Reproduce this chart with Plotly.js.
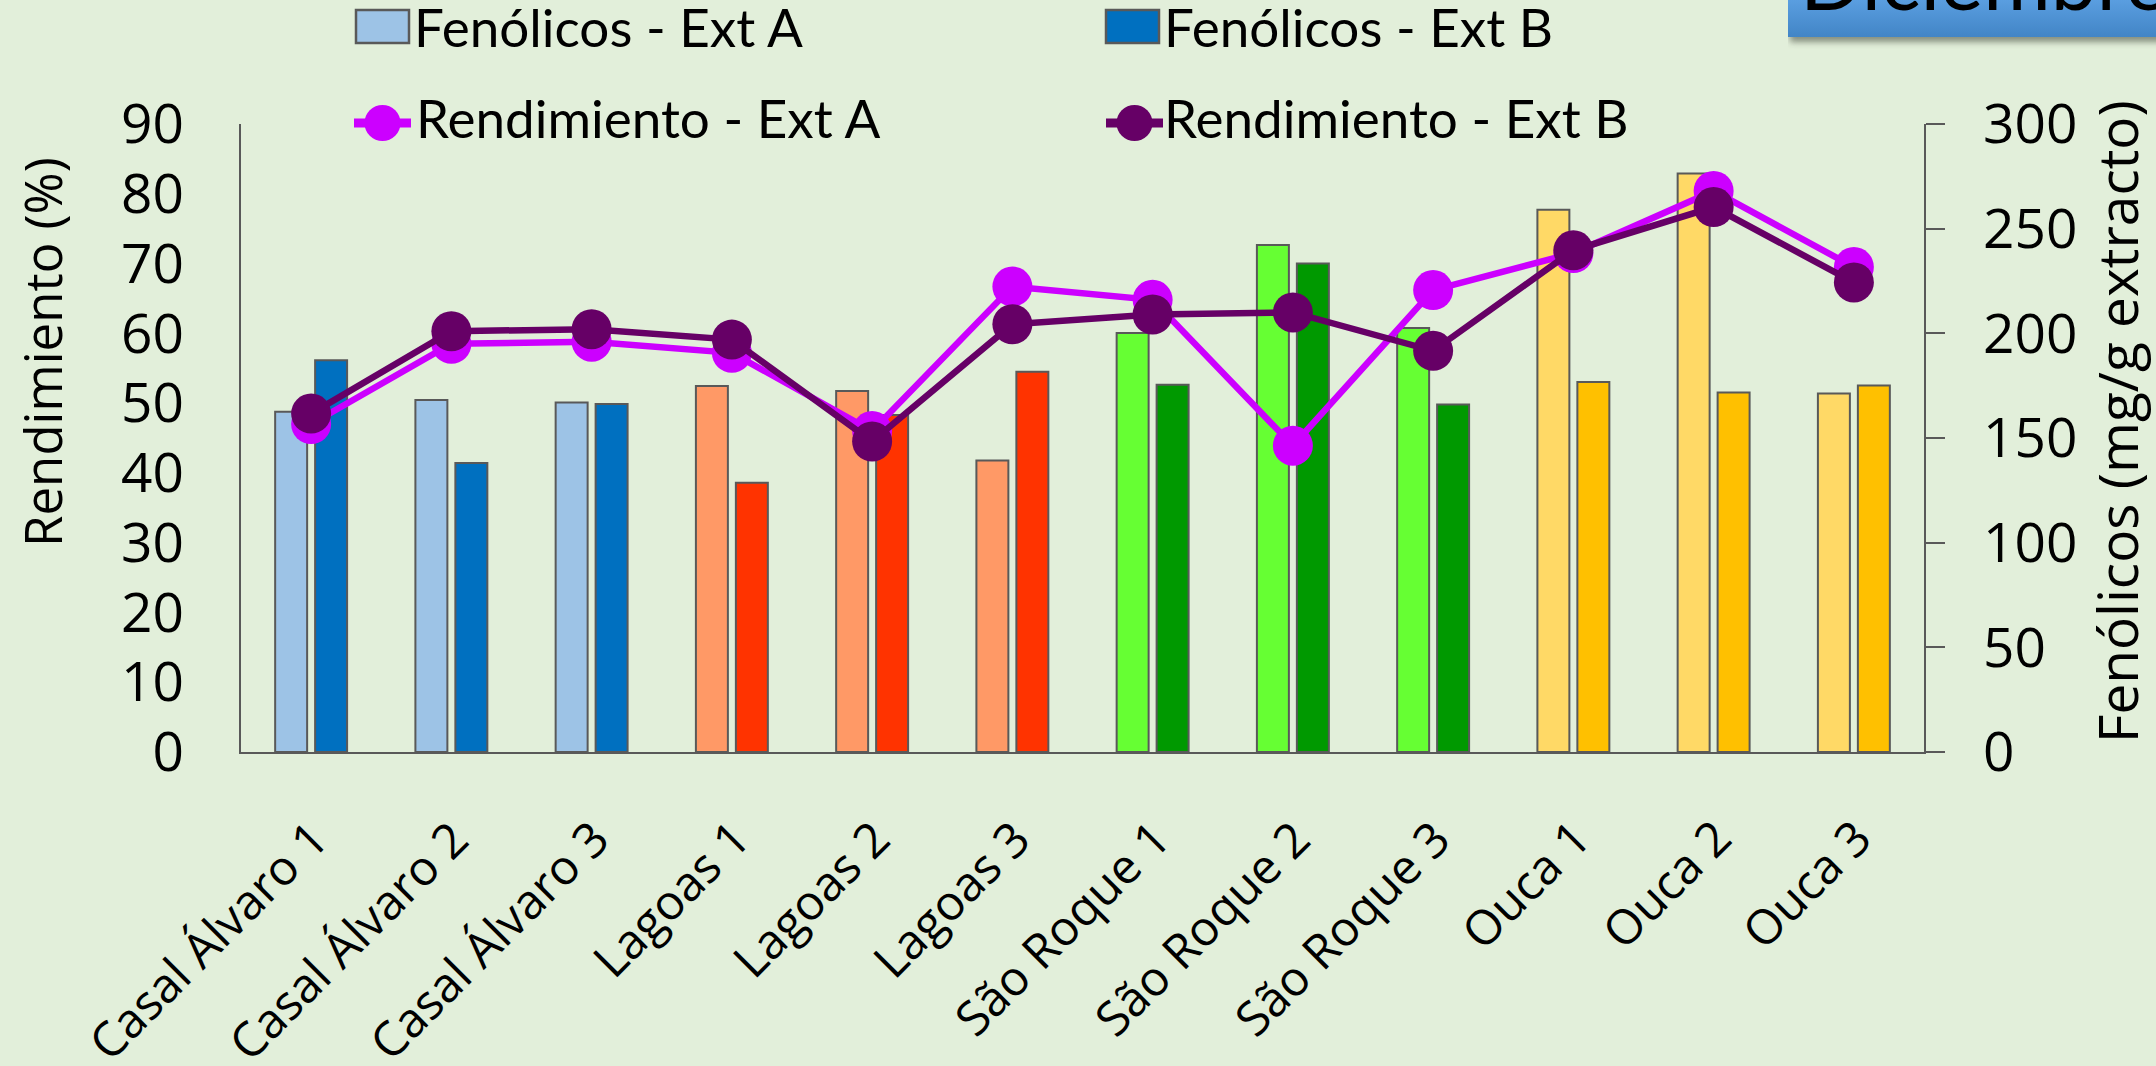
<!DOCTYPE html>
<html>
<head>
<meta charset="utf-8">
<script src="https://cdn.plot.ly/plotly-3.0.1.min.js"></script>
<style>
  html, body { margin: 0; padding: 0; background: #E2EFDA; }
  #chart { width: 2156px; height: 1066px; }
</style>
</head>
<body>
<div id="chart"></div>
<script>
// Samples
const categories = [
  "Casal Álvaro 1", "Casal Álvaro 2", "Casal Álvaro 3",
  "Lagoas 1", "Lagoas 2", "Lagoas 3",
  "São Roque 1", "São Roque 2", "São Roque 3",
  "Ouca 1", "Ouca 2", "Ouca 3"
];

// Phenolic content (mg/g extracto), right axis
const fenolicosA = [162.5, 168.2, 167.0, 174.8, 172.5, 139.2, 200.2, 242.2, 202.5, 259.0, 276.3, 171.3];
const fenolicosB = [187.2, 138.0, 166.3, 128.6, 161.0, 181.6, 175.4, 233.4, 166.0, 176.8, 171.7, 175.1];

// Extraction yield (%), left axis
const rendimientoA = [47.0, 58.5, 58.8, 57.2, 46.0, 66.7, 64.8, 43.9, 66.2, 71.5, 80.4, 69.5];
const rendimientoB = [48.5, 60.3, 60.6, 59.1, 44.5, 61.3, 62.7, 63.0, 57.5, 71.9, 78.1, 67.3];

// Bar colours by site (light = Ext A, dark = Ext B)
const siteColorsA = ["#9DC3E6", "#9DC3E6", "#9DC3E6", "#FF9966", "#FF9966", "#FF9966",
                     "#66FF33", "#66FF33", "#66FF33", "#FFD966", "#FFD966", "#FFD966"];
const siteColorsB = ["#0070C0", "#0070C0", "#0070C0", "#FF3300", "#FF3300", "#FF3300",
                     "#009900", "#009900", "#009900", "#FFC000", "#FFC000", "#FFC000"];

const legendLabels = ["Fenólicos - Ext A", "Fenólicos - Ext B", "Rendimiento - Ext A", "Rendimiento - Ext B"];

// Page geometry
const W = 2156, H = 1066;
const M = { l: 241, r: 232, t: 124, b: 314 };
const PW = W - M.l - M.r, PH = H - M.t - M.b;
const fx = x => (x - M.l) / PW;        // page px -> paper x
const fy = y => (H - M.b - y) / PH;    // page px -> paper y

const BG = "#E2EFDA";
const AXIS = "#595959";
const MAG = "#CC00FF";
const PUR = "#660066";
const TICKFONT = { family: "Open Sans, sans-serif", size: 55, color: "#000" };
const CATFONT = { family: "Open Sans, sans-serif", size: 48, color: "#000" };
const LEGFONT = { family: "Lato, sans-serif", size: 53, color: "#000" };

const barOutline = { color: AXIS, width: 2 };

const traces = [
  {
    type: "bar", name: legendLabels[0], x: categories, y: fenolicosA,
    xaxis: "x", yaxis: "y",
    marker: { color: siteColorsA, line: barOutline }
  },
  {
    type: "bar", name: legendLabels[1], x: categories, y: fenolicosB,
    xaxis: "x", yaxis: "y",
    marker: { color: siteColorsB, line: barOutline }
  },
  {
    type: "scatter", mode: "lines+markers", name: legendLabels[2],
    x: categories, y: rendimientoA, xaxis: "x", yaxis: "y2",
    line: { color: MAG, width: 6.5 },
    marker: { color: MAG, size: 40, line: { width: 0 } }
  },
  {
    type: "scatter", mode: "lines+markers", name: legendLabels[3],
    x: categories, y: rendimientoB, xaxis: "x", yaxis: "y2",
    line: { color: PUR, width: 6.5 },
    marker: { color: PUR, size: 40, line: { width: 0 } }
  }
];

// Hand-built legend: two columns, two rows
const shapes = [];
const annotations = [];

function swatch(x0, x1, y0, y1, fill) {
  shapes.push({
    type: "rect", xref: "paper", yref: "paper",
    x0: fx(x0), x1: fx(x1), y0: fy(y1), y1: fy(y0),
    fillcolor: fill, line: { color: AXIS, width: 2.5 }, layer: "above"
  });
}
function lineSymbol(x0, x1, yc, color) {
  shapes.push({
    type: "line", xref: "paper", yref: "paper",
    x0: fx(x0), x1: fx(x1), y0: fy(yc), y1: fy(yc),
    line: { color: color, width: 9 }, layer: "above"
  });
  const xc = (x0 + x1) / 2, r = 18;
  shapes.push({
    type: "circle", xref: "paper", yref: "paper",
    x0: fx(xc - r), x1: fx(xc + r), y0: fy(yc + r), y1: fy(yc - r),
    fillcolor: color, line: { width: 0 }, layer: "above"
  });
}
function legendText(x, yc, text) {
  annotations.push({
    xref: "paper", yref: "paper", x: fx(x), y: fy(yc),
    xanchor: "left", yanchor: "middle", showarrow: false,
    text: text, font: LEGFONT
  });
}

swatch(356, 409, 10, 43, siteColorsA[0]);
legendText(412, 27, legendLabels[0]);
swatch(1106, 1159, 10, 43, siteColorsB[0]);
legendText(1162, 27, legendLabels[1]);
lineSymbol(354, 411, 123, MAG);
legendText(414, 118, legendLabels[2]);
lineSymbol(1106, 1163, 123, PUR);
legendText(1162, 118, legendLabels[3]);

// Category labels, slanted, hanging below the axis
categories.forEach(function (c) {
  annotations.push({
    xref: "x", yref: "paper", x: c, y: 0,
    xshift: 33, yshift: -51,
    xanchor: "right", yanchor: "top", textangle: -45, showarrow: false,
    text: c, font: CATFONT
  });
});

// Axis titles
annotations.push({
  xref: "paper", yref: "paper", x: fx(42), y: fy(352),
  xanchor: "center", yanchor: "middle", textangle: -90, showarrow: false,
  text: "Rendimiento (%)", font: { family: "Open Sans, sans-serif", size: 51, color: "#000" }
});
annotations.push({
  xref: "paper", yref: "paper", x: fx(2116), y: fy(422),
  xanchor: "center", yanchor: "middle", textangle: -90, showarrow: false,
  text: "Fenólicos (mg/g extracto)", font: { family: "Open Sans, sans-serif", size: 55, color: "#000" }
});

// Month badge, top right
const badgeSvg =
  "<svg xmlns='http://www.w3.org/2000/svg' width='380' height='52'>" +
  "<defs><linearGradient id='g' x1='0' y1='0' x2='0' y2='1'>" +
  "<stop offset='0' stop-color='#5A9EE0'/><stop offset='1' stop-color='#4285C6'/></linearGradient>" +
  "<filter id='s' x='-10%' y='-10%' width='130%' height='160%'><feGaussianBlur stdDeviation='3'/></filter></defs>" +
  "<rect x='2' y='0' width='400' height='42' fill='#3a3f35' opacity='0.55' filter='url(#s)'/>" +
  "<rect x='0' y='0' width='400' height='37' fill='url(#g)'/></svg>";
const images = [{
  source: "data:image/svg+xml;charset=utf-8," + encodeURIComponent(badgeSvg),
  xref: "paper", yref: "paper",
  x: fx(1788), y: fy(0), sizex: 380 / PW, sizey: 52 / PH,
  xanchor: "left", yanchor: "top", sizing: "stretch", layer: "above"
}];
annotations.push({
  xref: "paper", yref: "paper", x: fx(1798), y: fy(-22),
  xanchor: "left", yanchor: "middle", showarrow: false,
  text: "Diciembre", font: { family: "Lato, sans-serif", size: 82, color: "#000" }
});

const layout = {
  width: W, height: H,
  margin: M,
  paper_bgcolor: BG, plot_bgcolor: BG,
  showlegend: false,
  barmode: "group",
  bargap: 0.43,
  bargroupgap: 0.2,
  font: TICKFONT,
  xaxis: {
    type: "category", range: [-0.5, categories.length - 0.5], autorange: false,
    showline: true, linecolor: AXIS, linewidth: 2,
    ticks: "", showticklabels: false,
    showgrid: false, zeroline: false
  },
  yaxis: {
    side: "right", range: [0, 300], autorange: false, dtick: 50,
    showline: true, linecolor: AXIS, linewidth: 2,
    ticks: "outside", ticklen: 19, tickwidth: 2, tickcolor: AXIS,
    tickfont: TICKFONT, ticklabelstandoff: 27,
    showgrid: false, zeroline: false
  },
  yaxis2: {
    overlaying: "y", side: "left", range: [0, 90], autorange: false, dtick: 10,
    showline: true, linecolor: AXIS, linewidth: 2,
    ticks: "", tickfont: TICKFONT, ticklabelstandoff: 44,
    showgrid: false, zeroline: false
  },
  shapes: shapes,
  annotations: annotations,
  images: images
};

Plotly.newPlot("chart", traces, layout, { staticPlot: true, displayModeBar: false });
</script>
</body>
</html>
